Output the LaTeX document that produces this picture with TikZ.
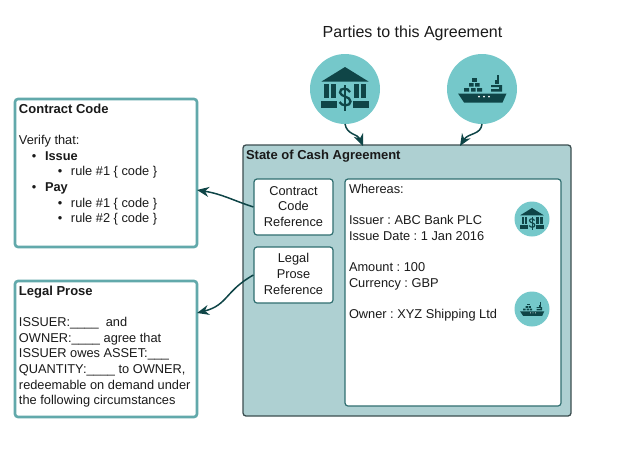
\documentclass[tikz,border=0pt]{standalone}
\usepackage{fontspec}
\setmainfont{Liberation Sans}
\usetikzlibrary{arrows.meta}
\definecolor{tealborder}{HTML}{62A9AB}
\definecolor{statefill}{HTML}{AED0D2}
\definecolor{stateedge}{HTML}{3C4E50}
\definecolor{innerteal}{HTML}{2F6E70}
\definecolor{circleteal}{HTML}{75C8CA}
\definecolor{icondark}{HTML}{0F4547}
\definecolor{inktext}{HTML}{1A1A1A}
\newcommand{\bodysize}{\fontsize{12.8}{15.6}\selectfont\frenchspacing}
\newcommand{\hd}[1]{{\fontsize{13}{15.6}\selectfont\textbf{#1}}}
\newcommand{\bul}[2]{\hspace*{#1pt}\makebox[13pt][l]{•}#2}
\tikzset{
  x=1pt,y=-1pt,
  notebox/.style={draw=tealborder,line width=2.6pt,fill=white,rounded corners=3pt},
  statebox/.style={draw=stateedge,line width=1.3pt,fill=statefill,rounded corners=3pt},
  innerbox/.style={draw=innerteal,line width=1.2pt,fill=white,rounded corners=3pt},
  txt/.style={inner sep=0pt,outer sep=0pt,anchor=north west,align=left,text=inktext,font=\bodysize},
  ctxt/.style={inner sep=0pt,outer sep=0pt,align=center,text=inktext,font=\bodysize},
  badge/.style={circle,fill=circleteal,inner sep=0pt,outer sep=0pt},
  link/.style={draw=icondark,line width=1.5pt,-{Stealth[length=12pt,width=10pt]}},
  pics/bankicon/.style={code={
    \fill[icondark] (0,-22) -- (23.5,-7.5) -- (-23.5,-7.5) -- cycle;
    \fill[icondark] (-21,-5) rectangle (-16,9);
    \fill[icondark] (-14.5,-5) rectangle (-9.5,9);
    \fill[icondark] (8.5,-5) rectangle (13.5,9);
    \fill[icondark] (16,-5) rectangle (21,9);
    \fill[icondark] (-24,12) rectangle (-8,19);
    \fill[icondark] (8,12) rectangle (24,19);
    \draw[icondark,line width=#1*2.3pt,line cap=butt]
      (5,3) .. controls (3,-1.5) and (-5.5,-1.5) .. (-5,3.5)
      .. controls (-4.5,8) and (5.5,7) .. (5.5,12.5)
      .. controls (5.5,17.5) and (-3.5,17.5) .. (-5.5,13);
    \draw[icondark,line width=#1*1.6pt] (0,-4) -- (0,22);
  }},
  pics/shipicon/.style={code={
    \fill[icondark] (-24,4.5) -- (24.5,4.5) -- (20.5,13.5) -- (-18,13.5) -- cycle;
    \fill[white] (-3,7.6) circle (0.9) (2,7.6) circle (0.9) (7,7.6) circle (0.9);
    \fill[icondark] (-10,-11) rectangle (-5,-7.5);
    \fill[icondark] (-13,-6) rectangle (-8.5,-2.5) (-7,-6) rectangle (-2.5,-2.5);
    \fill[icondark] (-18,-1) rectangle (-13,2.5) (-11,-1) rectangle (-6.5,2.5) (-5,-1) rectangle (0,2.5);
    \fill[icondark] (9,-4) -- (20,-4) -- (20,2.5) -- (9,2.5) -- (9,0) -- (17,0) -- (17,-2) -- (9,-2) -- cycle;
    \draw[icondark,line width=#1*1.3pt] (16,-14) -- (16,-5);
    \fill[icondark] (13,-9) rectangle (16,-5);
  }}
}
\begin{document}
\begin{tikzpicture}
\useasboundingbox (0,0) rectangle (624,459);
\fill[white] (0,0) rectangle (624,459);

\node[txt,anchor=base,font=\fontsize{16}{19}\selectfont] (title) at (412.5,37) {Parties to this Agreement};

% top badges
\node[badge,minimum size=70pt] (bank) at (345,89) {};
\node[badge,minimum size=70pt] (ship) at (482,89) {};
\pic at (bank) {bankicon=1};
\pic at (ship) {shipicon=1};

% left text boxes
\draw[notebox] (15,99) rectangle (197,247);
\coordinate (codeport) at (197,190);
\node[txt] (codetext) at (19,104) {\hd{Contract Code}\\[15.6pt]
Verify that:\\
\bul{13}{\textbf{Issue}}\\
\bul{39}{rule \#1 \{ code \}}\\
\bul{13}{\textbf{Pay}}\\
\bul{39}{rule \#1 \{ code \}}\\
\bul{39}{rule \#2 \{ code \}}};

\draw[notebox] (15,281) rectangle (197,417);
\coordinate (proseport) at (197,313);
\node[txt] (prosetext) at (19,286) {\hd{Legal Prose}\\[15.6pt]
ISSUER:\_\_\_\_\ \ and\\
OWNER:\_\_\_\_ agree that\\
ISSUER owes ASSET:\_\_\_\\
QUANTITY:\_\_\_\_ to OWNER,\\
redeemable on demand under\\
the following circumstances};

% state
\draw[statebox] (243,145) rectangle (571,416);
\coordinate (stateA) at (363,146);
\coordinate (stateB) at (460,146);
\node[txt,anchor=base west] (statetitle) at (246,159) {\hd{State of Cash Agreement}};

\node[innerbox,minimum width=79pt,minimum height=56pt,inner sep=0pt] (coderef) at (293.5,207) {};
\node[ctxt] (codereflabel) at (293.5,206.5) {Contract\\Code\\Reference};
\node[innerbox,minimum width=79pt,minimum height=56pt,inner sep=0pt] (proseref) at (293.5,275) {};
\node[ctxt] (prosereflabel) at (293.5,274) {Legal\\Prose\\Reference};

\draw[innerbox] (345,179) rectangle (561,406);
\node[txt] (whereas) at (349,184) {Whereas:\\[15.7pt]
Issuer : ABC Bank PLC\\
Issue Date : 1 Jan 2016\\[15.7pt]
Amount : 100\\
Currency : GBP\\[15.7pt]
Owner : XYZ Shipping Ltd};

\node[badge,minimum size=35pt] (banksmall) at (532,219) {};
\node[badge,minimum size=35pt] (shipsmall) at (532,309) {};
\pic[scale=0.5] at (banksmall) {bankicon=0.5};
\pic[scale=0.5] at (shipsmall) {shipicon=0.5};

% connectors
\draw[link] (bank.south) .. controls (347,135) and (358,134) .. (stateA);
\draw[link] (ship.south) .. controls (481,135) and (468,133) .. (stateB);
\draw[link] (coderef.west) .. controls (232,200) and (222,194) .. (codeport);
\draw[link] (proseref.west) .. controls (225,291) and (228,305) .. (proseport);
\end{tikzpicture}
\end{document}
